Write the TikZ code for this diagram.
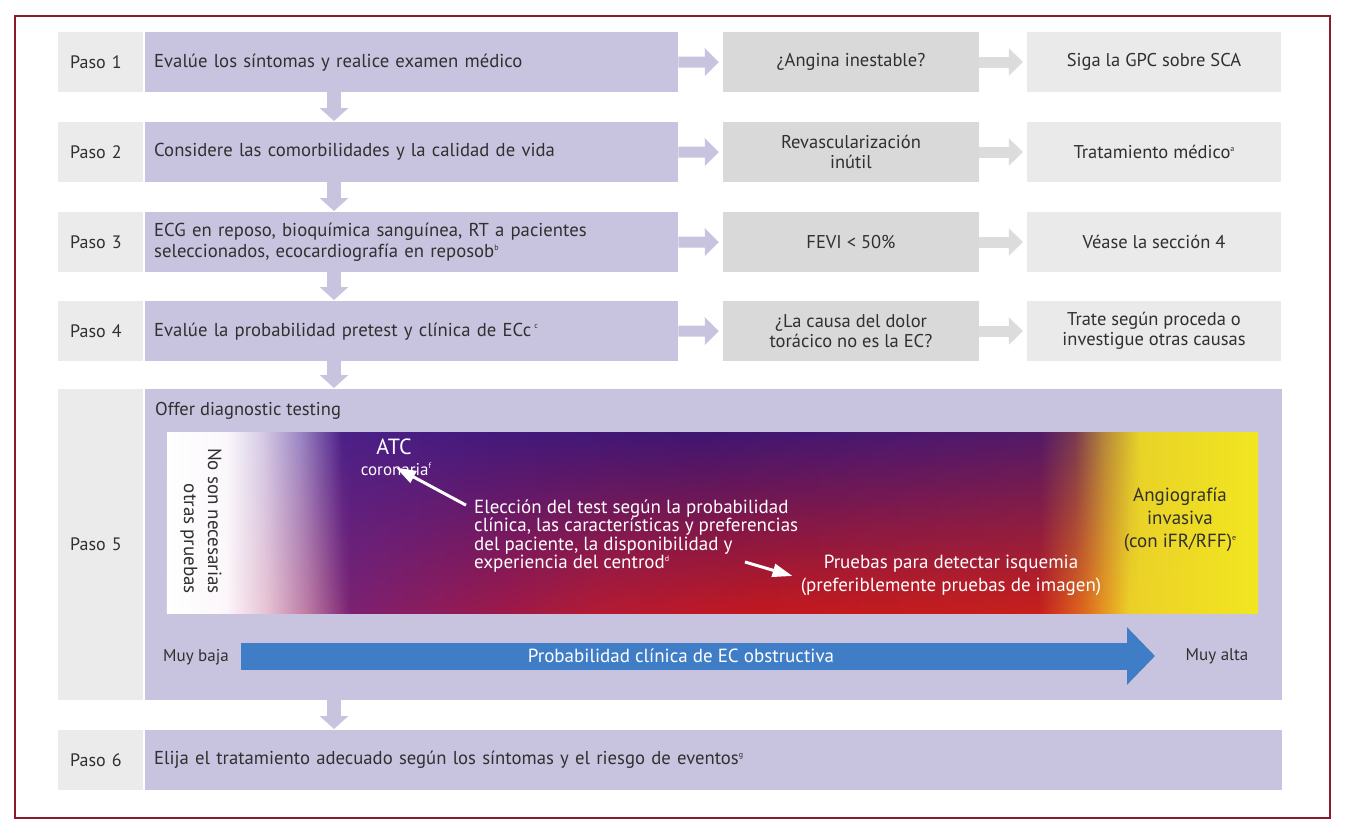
\documentclass[tikz,border=0pt]{standalone}
\usepackage{fontspec}
\setmainfont{PT Sans}
\usetikzlibrary{arrows.meta,fadings,calc}
\definecolor{lav}{HTML}{C8C4DF}
\definecolor{lblg}{HTML}{EBEBEB}
\definecolor{qg}{HTML}{D9D9D9}
\definecolor{rg}{HTML}{EAEAEA}
\definecolor{qarr}{HTML}{DCDCDC}
\definecolor{txt}{HTML}{303030}
\definecolor{framec}{HTML}{8B1A2A}
\definecolor{blueA}{HTML}{3F7EC6}
% top palette
\definecolor{ta}{HTML}{FFFFFF}
\definecolor{tb}{HTML}{FBF9FD}
\definecolor{tc}{HTML}{D6CCE7}
\definecolor{td}{HTML}{9C86C4}
\definecolor{te}{HTML}{4C2088}
\definecolor{tf}{HTML}{43197C}
\definecolor{tg}{HTML}{3F1672}
\definecolor{th}{HTML}{4A1870}
\definecolor{ti}{HTML}{521A68}
\definecolor{tj}{HTML}{7A3A50}
\definecolor{tk}{HTML}{B88A3A}
\definecolor{tl}{HTML}{E8D428}
\definecolor{tm}{HTML}{F2E620}
% bottom palette
\definecolor{ba}{HTML}{FFFFFF}
\definecolor{bb}{HTML}{FDF7FA}
\definecolor{bc}{HTML}{E6C0D3}
\definecolor{bd}{HTML}{BC7AA3}
\definecolor{be}{HTML}{7C2272}
\definecolor{bf}{HTML}{961A52}
\definecolor{bg}{HTML}{B51B33}
\definecolor{bh}{HTML}{C3191F}
\definecolor{bi}{HTML}{C8201C}
\definecolor{bj}{HTML}{E06A1E}
\definecolor{bk}{HTML}{EDD028}
\definecolor{bl}{HTML}{F2E620}
\pgfdeclarehorizontalshading{topgrad}{100bp}{color(0bp)=(ta); color(25bp)=(ta); color(27.70bp)=(tb); color(29.35bp)=(tc); color(31.10bp)=(td); color(33.02bp)=(te); color(40.26bp)=(tf); color(49.43bp)=(tg); color(58.59bp)=(th); color(65.01bp)=(ti); color(66.61bp)=(tj); color(67.99bp)=(tk); color(69.59bp)=(tl); color(75bp)=(tm); color(100bp)=(tm)}
\pgfdeclarehorizontalshading{botgrad}{100bp}{color(0bp)=(ba); color(25bp)=(ba); color(27.70bp)=(bb); color(29.63bp)=(bc); color(31.46bp)=(bd); color(33.39bp)=(be); color(38.89bp)=(bf); color(44.84bp)=(bg); color(52.18bp)=(bh); color(65.01bp)=(bi); color(67.07bp)=(bj); color(69.13bp)=(bk); color(75bp)=(bl); color(100bp)=(bl)}
\tikzfading[name=fadeup, top color=transparent!100, middle color=transparent!66, bottom color=transparent!0]
\newcommand\supr[1]{\raisebox{0.8ex}{\fontsize{8}{8}\selectfont #1}}
\newcommand\fsz[2]{\fontsize{#1}{#2}\selectfont}
\begin{document}
\begin{tikzpicture}[x=1pt,y=-1pt,
  lbl/.style={fill=lblg, anchor=north west, minimum height=60pt, text width=61pt, inner xsep=12pt, inner ysep=0pt, align=left, text=txt, font=\fsz{18}{21}},
  mainb/.style={fill=lav, anchor=north west, minimum height=60pt, inner xsep=9pt, inner ysep=0pt, align=left, text=txt, font=\fsz{18.7}{21.5}},
  qb/.style={fill=qg, minimum width=256pt, minimum height=60pt, inner sep=0pt, align=center, text=txt, font=\fsz{18.5}{20}},
  rb/.style={fill=rg, minimum width=254pt, minimum height=60pt, inner sep=0pt, align=center, text=txt, font=\fsz{18.5}{20}},
  harrow/.style={line width=11pt, -{Triangle[length=14pt,width=27pt]}, shorten >=4pt},
  varrow/.style={line width=14pt, lav, -{Triangle[length=13pt,width=28pt]}, shorten >=1pt},
  warrow/.style={line width=3pt, white, -{Triangle[length=20pt,width=13pt]}},
  wtxt/.style={text=white, inner sep=0pt},
]
\useasboundingbox (0,0) rectangle (1347,835);
\fill[white] (0,0) rectangle (1347,835);
\draw[framec, line width=2.5pt] (15,16) rectangle (1330,818);

% Row 1
\node[lbl] (l1) at (58,32) {Paso 1};
\node[mainb, text width=515pt] (m1) at (145,32) {Evalúe los síntomas y realice examen médico};
\node[qb] (q1) at (851,62) {¿Angina inestable?};
\node[rb] (r1) at (1154,62) {Siga la GPC sobre SCA};
% Row 2
\node[lbl] (l2) at (58,122) {Paso 2};
\node[mainb, text width=515pt] (m2) at (145,122) {Considere las comorbilidades y la calidad de vida};
\node[qb] (q2) at (851,152) {Revascularización\\inútil};
\node[rb] (r2) at (1154,152) {Tratamiento médico\supr{a}};
% Row 3
\node[lbl] (l3) at (58,212) {Paso 3};
\node[mainb, text width=515pt] (m3) at (145,212) {ECG en reposo, bioquímica sanguínea, RT a pacientes\\seleccionados, ecocardiografía en reposob\supr{b}};
\node[qb] (q3) at (851,242) {FEVI < 50\%};
\node[rb] (r3) at (1154,242) {Véase la sección 4};
% Row 4
\node[lbl] (l4) at (58,301) {Paso 4};
\node[mainb, text width=515pt] (m4) at (145,301) {Evalúe la probabilidad pretest y clínica de ECc\,\supr{c}};
\node[qb] (q4) at (851,331) {¿La causa del dolor\\torácico no es la EC?};
\node[rb] (r4) at (1154,331) {Trate según proceda o\\investigue otras causas};
% Row 5
\node[lbl, minimum height=311pt] (l5) at (58,389) {Paso 5};
\node[fill=lav, anchor=north west, minimum width=1137pt, minimum height=311pt, inner sep=0pt] (m5) at (145,389) {};
\node[anchor=west, text=txt, font=\fsz{18.5}{20}, inner sep=0pt] (offer) at (155,411) {Offer diagnostic testing};

% gradient panel
\shade[shading=topgrad] (167,432) rectangle (1258,613);
\shade[shading=botgrad, path fading=fadeup] (167,432) rectangle (1258,613);

\node[rotate=-90, align=right, text=txt, font=\fsz{19}{24}, inner sep=0pt] (none) at (201,521) {No son necesarias\\otras pruebas};
\node[wtxt, font=\fsz{22}{24}] (atc) at (394,447) {ATC};
\node[wtxt, font=\fsz{17}{19}] (cor) at (396,469) {coronaria\supr{f}};
\node[wtxt, anchor=west, align=left, font=\fsz{19}{18.6}] (elec) at (474,536) {Elección del test según la probabilidad\\clínica, las características y preferencias\\del paciente, la disponibilidad y\\experiencia del centrod\supr{d}};
\node[wtxt, align=center, font=\fsz{19}{23}] (pru) at (951,575) {Pruebas para detectar isquemia\\(preferiblemente pruebas de imagen)};
\node[text=txt, inner sep=0pt, align=center, font=\fsz{19}{23}] (ang) at (1180,520) {Angiografía\\invasiva\\(con iFR/RFF)\supr{e}};
\coordinate (t2) at (745,562);
\draw[warrow] ([shift={(-8,6)}]elec.north west) -- ([yshift=8pt]cor.south);
\draw[warrow] (t2) -- ([xshift=-8pt,yshift=-1pt]pru.west);

% probability arrow
\coordinate (pa) at (241,656);
\coordinate (pb) at (1155,656);
\draw[blueA, line width=27pt, -{Triangle[length=28pt,width=56pt]}] (pa) -- (pb);
\node[wtxt, font=\fsz{19}{20}] (prob) at (681,656) {Probabilidad clínica de EC obstructiva};
\node[text=txt, inner sep=0pt, font=\fsz{17}{20}] (mb) at (196,657) {Muy baja};
\node[text=txt, inner sep=0pt, font=\fsz{17}{20}] (ma) at (1217,656) {Muy alta};

% Row 6
\node[lbl] (l6) at (58,730) {Paso 6};
\node[mainb, text width=1119pt] (m6) at (145,730) {Elija el tratamiento adecuado según los síntomas y el riesgo de eventos\supr{g}};

% connectors
\coordinate (dx) at (334,0);
\draw[varrow] (m1.south -| dx) -- (m2.north -| dx);
\draw[varrow] (m2.south -| dx) -- (m3.north -| dx);
\draw[varrow] (m3.south -| dx) -- (m4.north -| dx);
\draw[varrow] (m4.south -| dx) -- (m5.north -| dx);
\draw[varrow] (m5.south -| dx) -- (m6.north -| dx);
\draw[harrow, lav] (m1.east) -- (q1.west);
\draw[harrow, lav] (m2.east) -- (q2.west);
\draw[harrow, lav] (m3.east) -- (q3.west);
\draw[harrow, lav] (m4.east) -- (q4.west);
\draw[harrow, qarr] (q1.east) -- (r1.west);
\draw[harrow, qarr] (q2.east) -- (r2.west);
\draw[harrow, qarr] (q3.east) -- (r3.west);
\draw[harrow, qarr] (q4.east) -- (r4.west);
\end{tikzpicture}
\end{document}
